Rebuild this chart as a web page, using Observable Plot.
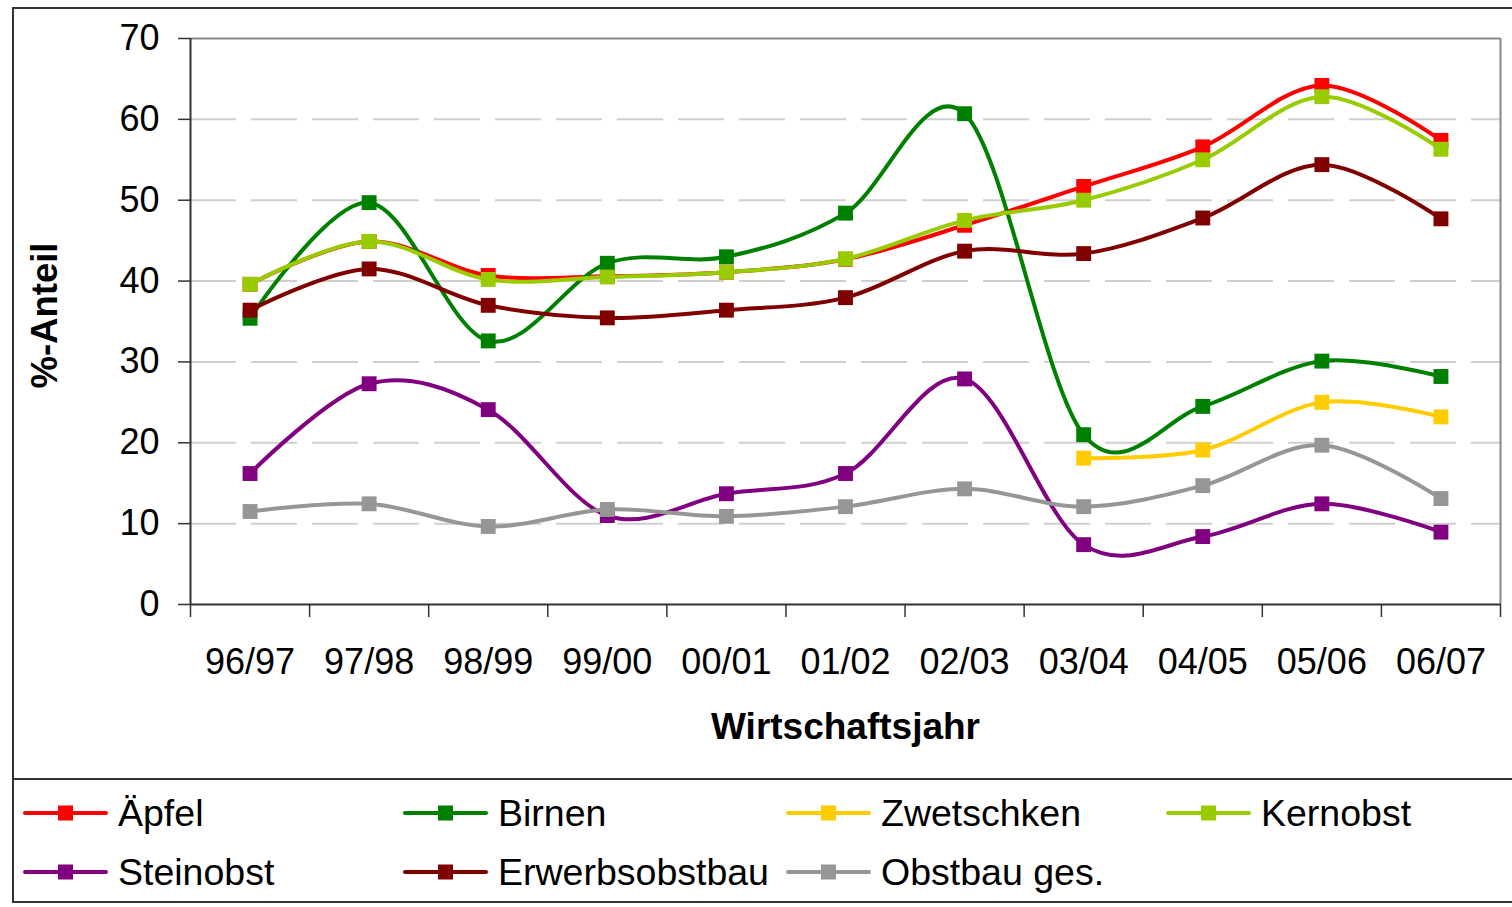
<!DOCTYPE html>
<html>
<head>
<meta charset="utf-8">
<script src="https://cdn.jsdelivr.net/npm/d3@7"></script>
<script src="https://cdn.jsdelivr.net/npm/@observablehq/plot@0.6"></script>
<style>
  html, body { margin: 0; padding: 0; background: #fff; overflow: hidden; }
  #wrap { position: relative; width: 1512px; height: 907px; font-family: "Liberation Sans", Arial, sans-serif; }
  #wrap svg { position: absolute; left: 0; }
  .box { position: absolute; left: 12px; top: 7px; width: 1530px; height: 896px; border: 2px solid #333; box-sizing: border-box; }
  .sep { position: absolute; left: 12px; top: 778px; width: 1500px; height: 0; border-top: 2px solid #333; }
</style>
</head>
<body>
<div id="wrap"><div class="box"></div><div class="sep"></div></div>
<script>
const categories = ["96/97","97/98","98/99","99/00","00/01","01/02","02/03","03/04","04/05","05/06","06/07"];
const seriesNames = ["Äpfel","Birnen","Zwetschken","Kernobst","Steinobst","Erwerbsobstbau","Obstbau ges."];
const aepfel        = [39.6, 44.9, 40.7, 40.6, 41.1, 42.7, 46.9, 51.7, 56.6, 64.2, 57.4];
const birnen        = [35.4, 49.7, 32.6, 42.2, 43.0, 48.4, 60.7, 21.0, 24.5, 30.1, 28.2];
const zwetschken    = [null, null, null, null, null, null, null, 18.1, 19.1, 25.0, 23.2];
const kernobst      = [39.6, 44.9, 40.2, 40.5, 41.1, 42.75, 47.5, 50.0, 55.0, 62.8, 56.3];
const steinobst     = [16.2, 27.3, 24.1, 11.0, 13.7, 16.2, 27.9, 7.4, 8.4, 12.45, 8.95];
const erwerbsobstbau= [36.4, 41.5, 37.0, 35.45, 36.4, 37.95, 43.7, 43.4, 47.8, 54.4, 47.7];
const obstbauGes    = [11.5, 12.45, 9.65, 11.75, 10.9, 12.1, 14.3, 12.1, 14.7, 19.7, 13.1];
const seriesValues = [aepfel, birnen, zwetschken, kernobst, steinobst, erwerbsobstbau, obstbauGes];
const seriesColors = ["#FF0000","#008000","#FFCC00","#99CC00","#800080","#800000","#969696"];
const yTicks = [0,10,20,30,40,50,60,70];
const gridTicks = [10,20,30,40,50,60];

const FONT = "Liberation Sans, Arial, sans-serif";
const idx = categories.map((c, i) => i);
const bounds = d3.range(categories.length + 1).map(i => i - 0.5);

const seriesMarks = seriesNames.flatMap((name, s) => {
  const rows = seriesValues[s].map((v, i) => ({i, v})).filter(d => d.v != null);
  return [
    Plot.line(rows, {x: "i", y: "v", stroke: seriesColors[s], strokeWidth: 4, curve: "cardinal"}),
    Plot.dot(rows, {x: "i", y: "v", symbol: "square", r: 8.4, fill: seriesColors[s]})
  ];
});

const chart = Plot.plot({
  width: 1512,
  height: 778,
  marginLeft: 190,
  marginRight: 12,
  marginTop: 38,
  marginBottom: 174,
  style: {fontFamily: FONT, fontSize: "36px", color: "#000", background: "transparent"},
  x: {domain: [-0.5, categories.length - 0.5], label: null},
  y: {domain: [0, 70], label: null},
  marks: [
    Plot.ruleY(gridTicks, {stroke: "#cfcfcf", strokeWidth: 2, strokeDasharray: "46,15"}),
    Plot.ruleY([70], {stroke: "#888", strokeWidth: 2}),
    Plot.ruleX([categories.length - 0.5], {stroke: "#888", strokeWidth: 2}),
    Plot.ruleX([-0.5], {stroke: "#333", strokeWidth: 2}),
    Plot.ruleY([0], {stroke: "#333", strokeWidth: 2}),
    Plot.axisY({ticks: yTicks, tickSize: 12, tickPadding: 19, fontSize: 36, color: "#000", stroke: "#333", strokeWidth: 1.5, fontFamily: FONT}),
    Plot.axisX({ticks: bounds, tickSize: 13, tickFormat: () => "", color: "#000", stroke: "#333", strokeWidth: 1.5}),
    Plot.axisX({ticks: idx, tickSize: 0, tickPadding: 44, tickFormat: i => categories[i], fontSize: 36, color: "#000", fontFamily: FONT}),
    Plot.text(["%-Anteil"], {frameAnchor: "left", dx: -145, dy: -6, rotate: -90, textAnchor: "middle", lineAnchor: "middle", fontWeight: "bold", fontSize: 36.5, fontFamily: FONT, fill: "#000"}),
    Plot.text(["Wirtschaftsjahr"], {frameAnchor: "bottom", dy: 123, textAnchor: "middle", lineAnchor: "middle", fontWeight: "bold", fontSize: 37, fontFamily: FONT, fill: "#000"}),
    ...seriesMarks
  ]
});
chart.style.top = "0px";
document.getElementById("wrap").appendChild(chart);

// Legend
const colX = [23, 403, 786, 1166];
const rowY = [34, 93];
const leg = d3.select("#wrap").append("svg")
  .attr("width", 1512).attr("height", 127)
  .style("top", "779px")
  .attr("font-family", FONT).attr("font-size", 37.5);
seriesNames.forEach((name, s) => {
  const cx = colX[s % 4], cy = rowY[Math.floor(s / 4)];
  const g = leg.append("g").attr("transform", `translate(${cx},${cy})`);
  g.append("line").attr("x1", 2).attr("x2", 83).attr("y1", 0).attr("y2", 0)
    .attr("stroke", seriesColors[s]).attr("stroke-width", 4).attr("stroke-linecap", "round");
  g.append("rect").attr("x", 35).attr("y", -7.5).attr("width", 15).attr("height", 15).attr("fill", seriesColors[s]);
  g.append("text").attr("x", 95).attr("y", 13).attr("fill", "#000").text(name);
});
</script>
</body>
</html>
